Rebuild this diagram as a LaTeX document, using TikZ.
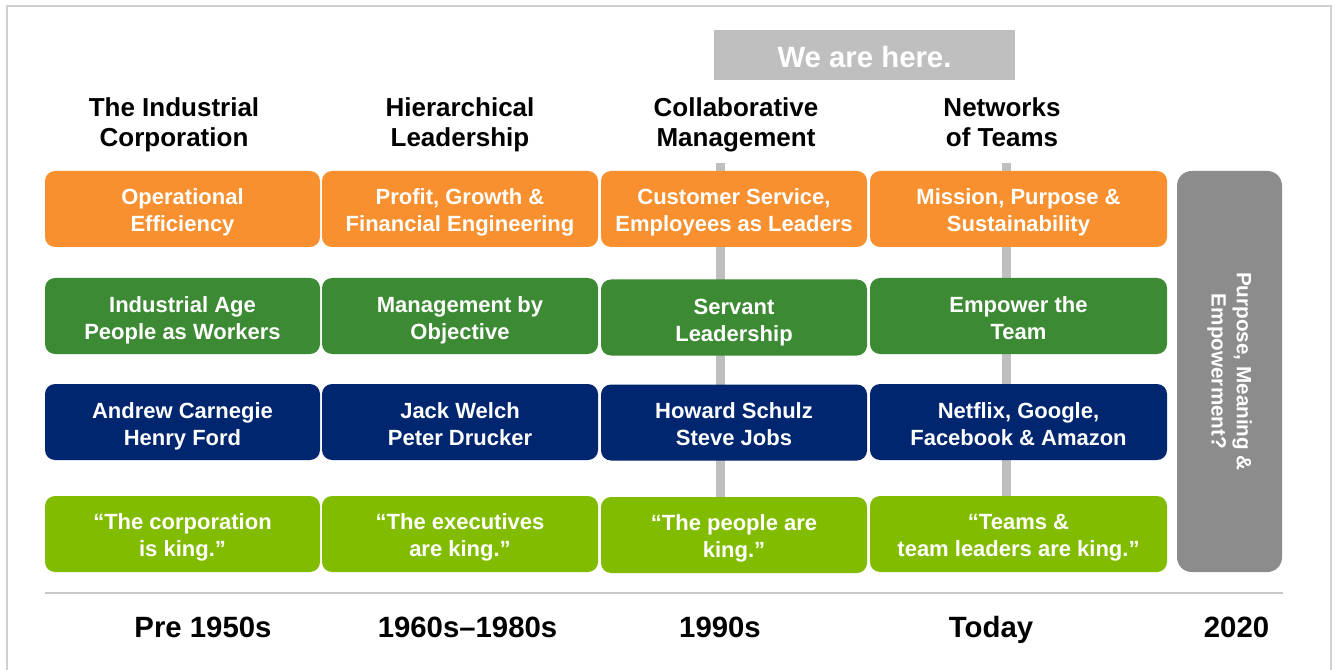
\documentclass[tikz,border=0pt]{standalone}
\usepackage{fontspec}
\setmainfont{Liberation Sans}
\definecolor{cOrange}{HTML}{F8902F}
\definecolor{cGreen}{HTML}{3D8A34}
\definecolor{cBlue}{HTML}{002670}
\definecolor{cLime}{HTML}{82BC00}
\definecolor{cSide}{HTML}{8C8C8C}
\definecolor{cBar}{HTML}{BFBFBF}
\definecolor{cFrame}{HTML}{D0D0D0}
\definecolor{cRule}{HTML}{C8C8C8}
\tikzset{
  box/.style={rectangle, rounded corners=7.5pt, inner sep=0pt, align=center, text=white,
    font=\fontsize{16.5}{20.25}\selectfont\bfseries, minimum height=57pt,
    text height=37.5pt, text depth=4pt},
  rowO/.style={box, fill=cOrange},
  rowG/.style={box, fill=cGreen, text height=39.75pt},
  rowN/.style={box, fill=cBlue, text height=39pt},
  rowL/.style={box, fill=cLime},
  colA/.style={minimum width=206.25pt},
  colB/.style={minimum width=207pt},
  colC/.style={minimum width=199.5pt},
  colD/.style={minimum width=222.75pt},
  header/.style={inner sep=0pt, align=center, text=black, font=\fontsize{19.5}{22.5}\selectfont\bfseries,
    text height=41.5pt, text depth=5pt},
  era/.style={inner sep=0pt, text=black, font=\fontsize{22}{26}\selectfont\bfseries,
    execute at begin node={\rule[-5pt]{0pt}{25.25pt}}},
  bar/.style={draw=cBar, line width=6.75pt},
}
\begin{document}
\begin{tikzpicture}[x=0.75pt, y=-0.75pt]
\useasboundingbox (0,0) rectangle (1335,670);
\fill[white] (0,0) rectangle (1335,670);
% frame
\draw[cFrame, line width=1.5pt] (7,670) -- (7,6) -- (1331,6) -- (1331,670);
% banner
\node[rectangle, fill=cBar, minimum width=225.75pt, minimum height=37.5pt, inner sep=0pt,
  text=white, font=\fontsize{22}{26}\selectfont\bfseries,
  execute at begin node={\rule[-5pt]{0pt}{28.5pt}}] (here) at (864.5,55) {We are here.};
% vertical grey bars
\coordinate (t3) at (720.5,163);
\coordinate (b3) at (720.5,497);
\coordinate (t4) at (1006.5,163);
\coordinate (b4) at (1006.5,497);
\draw[bar] (t3) -- (b3);
\draw[bar] (t4) -- (b4);
% headers
\node[header] (h1) at (174,122) {The Industrial\\Corporation};
\node[header] (h2) at (460,122) {Hierarchical\\Leadership};
\node[header] (h3) at (736,122) {Collaborative\\Management};
\node[header] (h4) at (1002,122) {Networks\\of Teams};
% row 1 orange
\node[rowO, colA] (o1) at (182.5,209) {Operational\\Efficiency};
\node[rowO, colB] (o2) at (460,209) {Profit, Growth \&\\Financial Engineering};
\node[rowO, colC] (o3) at (734,209) {Customer Service,\\Employees as Leaders};
\node[rowO, colD] (o4) at (1018.5,209) {Mission, Purpose \&\\Sustainability};
% row 2 green
\node[rowG, colA] (g1) at (182.5,316) {Industrial Age\\People as Workers};
\node[rowG, colB] (g2) at (460,316) {Management by\\Objective};
\node[rowG, colC] (g3) at (734,317.5) {Servant\\Leadership};
\node[rowG, colD] (g4) at (1018.5,316) {Empower the\\Team};
% row 3 blue
\node[rowN, colA] (n1) at (182.5,422) {Andrew Carnegie\\Henry Ford};
\node[rowN, colB] (n2) at (460,422) {Jack Welch\\Peter Drucker};
\node[rowN, colC] (n3) at (734,422.5) {Howard Schulz\\Steve Jobs};
\node[rowN, colD] (n4) at (1018.5,422) {Netflix, Google,\\Facebook \& Amazon};
% row 4 lime
\node[rowL, colA] (l1) at (182.5,534) {“The corporation\\is king.”};
\node[rowL, colB] (l2) at (460,534) {“The executives\\are king.”};
\node[rowL, colC] (l3) at (734,535) {“The people are\\king.”};
\node[rowL, colD] (l4) at (1018.5,534) {“Teams \&\\team leaders are king.”};
% side box
\node[rectangle, rounded corners=11pt, fill=cSide, minimum width=78.75pt, minimum height=300.75pt,
  inner sep=0pt] (side) at (1229.5,371.5) {};
\node[rotate=-90, inner sep=0pt, align=center, text=white,
  font=\fontsize{15.5}{19}\selectfont\bfseries] (sidetext) at (side.center) {Purpose, Meaning \&\\Empowerment?};
% divider
\coordinate (rl) at (45,593);
\coordinate (rr) at (1283,593);
\draw[cRule, line width=1pt] (rl) -- (rr);
% eras
\node[era] (e1) at (203,627) {Pre 1950s};
\node[era] (e2) at (467.5,627) {1960s–1980s};
\node[era] (e3) at (720,627) {1990s};
\node[era] (e4) at (991,627) {Today};
\node[era] (e5) at (1236.5,627) {2020};
\end{tikzpicture}
\end{document}
